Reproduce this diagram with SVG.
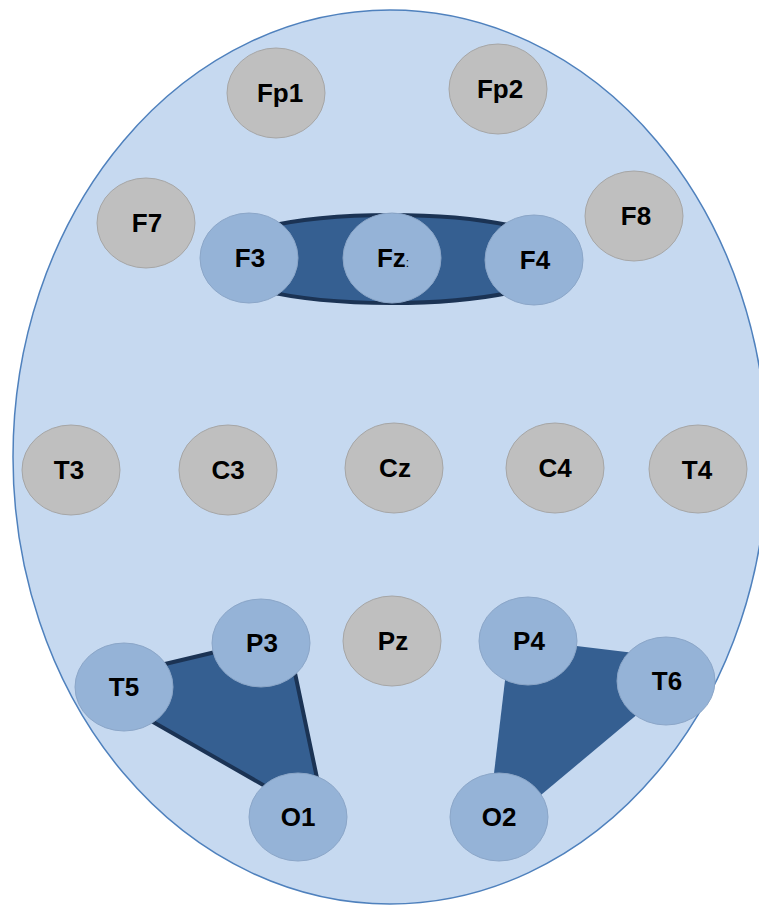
<svg xmlns="http://www.w3.org/2000/svg" width="759" height="905" viewBox="0 0 759 905">
<style>
.head{fill:#c6d9f0;stroke:#4f81bd;stroke-width:1.5}
.g{fill:#bfbfbf;stroke:#a6a6a6;stroke-width:1}
.b{fill:#95b3d7;stroke:#8ba6c8;stroke-width:1}
.band{fill:#355f91;stroke:#1b3354;stroke-width:4}
.t{font-family:"Liberation Sans",Arial,sans-serif;font-weight:bold;font-size:26px;fill:#000;text-anchor:middle}
</style>
<rect width="759" height="905" fill="#fff"/>
<ellipse class="head" cx="390" cy="457" rx="377" ry="447"/>
<g id="connectors">
<ellipse class="band" cx="391" cy="259" rx="184" ry="44"/>
<polygon class="band" points="85,683 287,635 326,821"/>
<polygon fill="#355f91" points="510,638 701,661 486,841"/>
</g>
<g id="Fp1"><ellipse class="g" cx="276" cy="93" rx="49" ry="45"/><text class="t" x="280" y="102">Fp1</text></g>
<g id="Fp2"><ellipse class="g" cx="498" cy="89" rx="49" ry="45"/><text class="t" x="500" y="98">Fp2</text></g>
<g id="F7"><ellipse class="g" cx="146" cy="223" rx="49" ry="45"/><text class="t" x="147" y="232">F7</text></g>
<g id="F8"><ellipse class="g" cx="634" cy="216" rx="49" ry="45"/><text class="t" x="636" y="225">F8</text></g>
<g id="F3"><ellipse class="b" cx="249" cy="258" rx="49" ry="45"/><text class="t" x="250" y="267">F3</text></g>
<g id="Fz"><ellipse class="b" cx="392" cy="258" rx="49" ry="45"/><text class="t" x="393" y="267">Fz<tspan font-size="12" font-weight="normal">:</tspan></text></g>
<g id="F4"><ellipse class="b" cx="534" cy="260" rx="49" ry="45"/><text class="t" x="535" y="269">F4</text></g>
<g id="T3"><ellipse class="g" cx="71" cy="470" rx="49" ry="45"/><text class="t" x="69" y="479">T3</text></g>
<g id="C3"><ellipse class="g" cx="228" cy="470" rx="49" ry="45"/><text class="t" x="228" y="479">C3</text></g>
<g id="Cz"><ellipse class="g" cx="394" cy="468" rx="49" ry="45"/><text class="t" x="395" y="477">Cz</text></g>
<g id="C4"><ellipse class="g" cx="555" cy="468" rx="49" ry="45"/><text class="t" x="555" y="477">C4</text></g>
<g id="T4"><ellipse class="g" cx="698" cy="469" rx="49" ry="44"/><text class="t" x="697" y="479">T4</text></g>
<g id="P3"><ellipse class="b" cx="261" cy="643" rx="49" ry="44"/><text class="t" x="262" y="652">P3</text></g>
<g id="Pz"><ellipse class="g" cx="392" cy="641" rx="49" ry="45"/><text class="t" x="393" y="650">Pz</text></g>
<g id="P4"><ellipse class="b" cx="528" cy="641" rx="49" ry="44"/><text class="t" x="529" y="650">P4</text></g>
<g id="T5"><ellipse class="b" cx="124" cy="687" rx="49" ry="44"/><text class="t" x="124" y="696">T5</text></g>
<g id="T6"><ellipse class="b" cx="666" cy="681" rx="49" ry="44"/><text class="t" x="667" y="690">T6</text></g>
<g id="O1"><ellipse class="b" cx="298" cy="817" rx="49" ry="44"/><text class="t" x="298" y="826">O1</text></g>
<g id="O2"><ellipse class="b" cx="499" cy="817" rx="49" ry="44"/><text class="t" x="499" y="826">O2</text></g>
</svg>
